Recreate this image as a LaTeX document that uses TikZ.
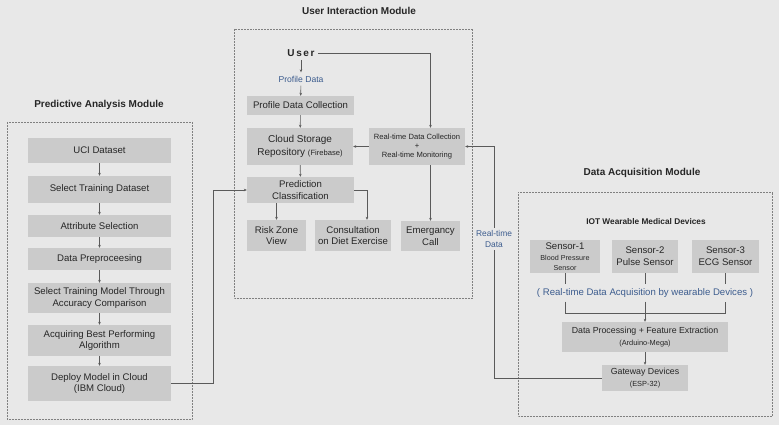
\documentclass[tikz,border=0pt]{standalone}
\usepackage{fontspec}
\setmainfont{Liberation Sans}
\usetikzlibrary{arrows.meta,positioning,calc}

\definecolor{bggray}{HTML}{E8E8E8}
\definecolor{boxgray}{HTML}{CBCBCB}
\definecolor{linegray}{HTML}{5A5A5A}
\definecolor{txtgray}{HTML}{262626}
\definecolor{noteblue}{HTML}{3C5C8E}

\newcommand{\fsz}[1]{\fontsize{#1}{1.22\dimexpr#1pt\relax}\selectfont}

\begin{document}
\begin{tikzpicture}[
    x=1pt, y=-1pt,
    box/.style={rectangle, fill=boxgray, text=txtgray, align=center, inner sep=1pt, font=\fsz{9.6}},
    small/.style={font=\fsz{7.6}},
    modtitle/.style={text=txtgray, font=\bfseries\fsz{10}},
    note/.style={text=noteblue, align=center},
    module/.style={draw=gray, densely dotted, line width=0.5pt},
    link/.style={draw=linegray, line width=0.6pt},
    arr/.style={link, -{Stealth[length=3pt, width=2.6pt]}},
]
    \fill[bggray] (0,0) rectangle (779,425);
    \useasboundingbox (0,0) rectangle (779,425);

    % module frames and titles
    \draw[module] (7,122) rectangle (192,419);
    \draw[module] (234,29) rectangle (472,298);
    \draw[module] (518,192) rectangle (772,416);
    \node[modtitle] (patitle) at (99,105) {Predictive Analysis Module};
    \node[modtitle] (uititle) at (359,11) {User Interaction Module};
    \node[modtitle] (datitle) at (642,173) {Data Acquisition Module};

    % predictive analysis
    \node[box, minimum width=143, minimum height=25] (uci) at (99.5,150.5) {UCI Dataset};
    \node[box, minimum width=143, minimum height=27] (seltrain) at (99.5,189.5) {Select Training Dataset};
    \node[box, minimum width=143, minimum height=22] (attr) at (99.5,226) {Attribute Selection};
    \node[box, minimum width=143, minimum height=22] (prep) at (99.5,259) {Data Preproceesing};
    \node[box, minimum width=143, minimum height=30] (selmodel) at (99.5,298) {Select Training Model Through\\Accuracy Comparison};
    \node[box, minimum width=143, minimum height=31] (best) at (99.5,340.5) {Acquiring Best Performing\\Algorithm};
    \node[box, minimum width=143, minimum height=35] (deploy) at (99.5,383.5) {Deploy Model in Cloud\\(IBM Cloud)};

    \draw[arr] (uci) -- (seltrain);
    \draw[arr] (seltrain) -- (attr);
    \draw[arr] (attr) -- (prep);
    \draw[arr] (prep) -- (selmodel);
    \draw[arr] (selmodel) -- (best);
    \draw[arr] (best) -- (deploy);

    % user interaction
    \node[text=txtgray, font=\bfseries\fsz{10}] (user) at (301,53) {U\,s\,e\,r};
    \node[note, font=\fsz{8.6}] (pdlabel) at (301,79) {Profile Data};
    \node[box, minimum width=107, minimum height=19] (pdc) at (300.5,105.5) {Profile Data Collection};
    \node[box, minimum width=106, minimum height=37, font=\fsz{10}] (cloud) at (300,146.5) {Cloud Storage\\Repository {\fsz{7.6}(Firebase)}};
    \node[box, small, minimum width=96, minimum height=37] (rtdc) at (417,146.5) {Real-time Data Collection\\+\\Real-time Monitoring};
    \node[box, minimum width=107, minimum height=26] (pred) at (300.5,190) {Prediction\\Classification};
    \node[box, minimum width=59, minimum height=31] (risk) at (276.5,235.5) {Risk Zone\\View};
    \node[box, minimum width=76, minimum height=31] (consult) at (353,235.5) {Consultation\\on Diet Exercise};
    \node[box, minimum width=59, minimum height=30] (emg) at (430.5,236) {Emergancy\\Call};

    \draw[arr] (user) -- (pdlabel);
    \draw[arr] (pdlabel) -- (pdc);
    \draw[arr] (pdc) -- (cloud);
    \draw[arr] (user.east) -| (rtdc.north -| emg.north);
    \draw[arr] (rtdc.west) -- (cloud.east);
    \draw[arr] (cloud) -- (pred);
    \draw[arr] (pred.south -| risk.north) -- (risk.north);
    \draw[arr] (pred.east) -| ([xshift=14]consult.north);
    \draw[arr] (rtdc.south -| emg.north) -- (emg.north);
    \draw[arr] (deploy.east) -- ++(42,0) |- (pred.west);

    % data acquisition
    \node[text=txtgray, font=\bfseries\fsz{8.3}] (iot) at (646,222) {IOT Wearable Medical Devices};
    \node[box, minimum width=70, minimum height=33] (s1) at (565,256.5) {Sensor-1\\[-1pt]{\fsz{7.2}Blood Pressure}\\[-2pt]{\fsz{7.2}Sensor}};
    \node[box, minimum width=66, minimum height=33] (s2) at (645,256.5) {Sensor-2\\Pulse Sensor};
    \node[box, minimum width=67, minimum height=33] (s3) at (725.5,256.5) {Sensor-3\\ECG Sensor};
    \node[note, font=\fsz{9.6}, inner sep=4pt] (acqnote) at (645,293) {( Real-time Data Acquisition by wearable Devices )};
    \node[box, minimum width=166, minimum height=30, font=\fsz{8.8}] (dp) at (645,337) {Data Processing + Feature Extraction\\[1pt]{\fsz{7.4}(Arduino-Mega)}};
    \node[box, minimum width=86, minimum height=26, font=\fsz{8.8}] (gw) at (645,378) {Gateway Devices\\[1pt]{\fsz{7.4}(ESP-32)}};

    \draw[link] (s1.south) -- (s1.south |- acqnote.north);
    \draw[link] (s2.south) -- (s2.south |- acqnote.north);
    \draw[link] (s3.south) -- (s3.south |- acqnote.north);
    \draw[link] (s1.south |- acqnote.south) -- ++(0,12) -| (s3.south |- acqnote.south);
    \draw[arr] (s2.south |- acqnote.south) -- (dp.north);
    \draw[arr] (dp) -- (gw);

    % real-time data link
    \node[note, font=\fsz{8.4}, inner sep=3pt] (rtlabel) at (494,239) {Real-time\\Data};
    \draw[link] (gw.west) -| (rtlabel.south);
    \draw[arr] (rtlabel.north) |- (rtdc.east);
\end{tikzpicture}
\end{document}
